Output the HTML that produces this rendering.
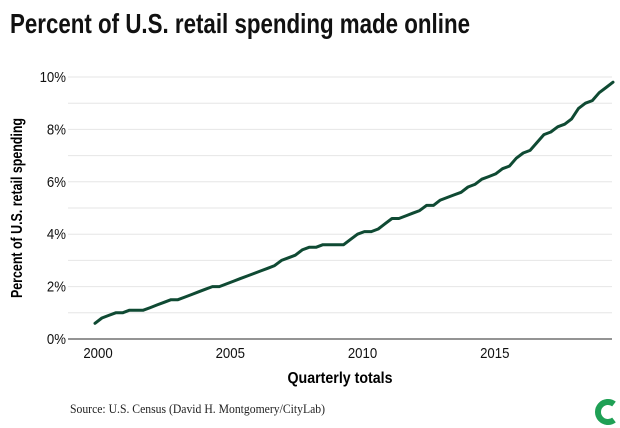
<!DOCTYPE html>
<html><head><meta charset="utf-8"><style>
html,body{margin:0;padding:0;background:#fff;}
svg{display:block;}
</style></head><body>
<svg id="chart" width="620" height="428" xmlns="http://www.w3.org/2000/svg">
<text x="10" y="33" font-family="Liberation Sans, sans-serif" font-weight="bold" font-size="28" textLength="460" lengthAdjust="spacingAndGlyphs" fill="#111">Percent of U.S. retail spending made online</text>
<g id="grid"></g>
<g id="yticks"></g>
<g id="xticks"></g>
<text transform="translate(22,208) rotate(-90)" text-anchor="middle" font-family="Liberation Sans, sans-serif" font-weight="bold" font-size="16" textLength="180" lengthAdjust="spacingAndGlyphs" fill="#000">Percent of U.S. retail spending</text>
<text x="340" y="383" text-anchor="middle" font-family="Liberation Sans, sans-serif" font-weight="bold" font-size="16" textLength="105" lengthAdjust="spacingAndGlyphs" fill="#000">Quarterly totals</text>
<text x="70" y="413" font-family="Liberation Serif, serif" font-size="12.5" textLength="255" lengthAdjust="spacingAndGlyphs" fill="#222">Source: U.S. Census (David H. Montgomery/CityLab)</text>
<g>
<path d="M614 404 A10 10 0 1 0 614 420" fill="none" stroke="#1fa055" stroke-width="6"/>
</g>
</svg>
<script>
const yTickValues = [0,2,4,6,8,10];
const yTickLabels = ["0%","2%","4%","6%","8%","10%"];
const xTickYears = [2000,2005,2010,2015];
const xTickLabels = ["2000","2005","2010","2015"];
const shareValues = [0.6,
0.8,0.9,1.0,1.0, 1.1,1.1,1.1,1.2, 1.3,1.4,1.5,1.5, 1.6,1.7,1.8,1.9,
2.0,2.0,2.1,2.2, 2.3,2.4,2.5,2.6, 2.7,2.8,3.0,3.1, 3.2,3.4,3.5,3.5,
3.6,3.6,3.6,3.6, 3.8,4.0,4.1,4.1, 4.2,4.4,4.6,4.6, 4.7,4.8,4.9,5.1,
5.1,5.3,5.4,5.5, 5.6,5.8,5.9,6.1, 6.2,6.3,6.5,6.6, 6.9,7.1,7.2,7.5,
7.8,7.9,8.1,8.2, 8.4,8.8,9.0,9.1, 9.4,9.6,9.8];
const NS='http://www.w3.org/2000/svg';
function yScale(v){return 339 - v*26.2;}
function yearX(y){return 98 + (y-2000)*26.45;}
function idxX(i){return 95 + i*(613-95)/(shareValues.length-1);}
const grid=document.getElementById('grid');
for(let v=0; v<=10; v++){
  const l=document.createElementNS(NS,'line');
  l.setAttribute('x1',68);l.setAttribute('x2',612);
  l.setAttribute('y1',yScale(v));l.setAttribute('y2',yScale(v));
  l.setAttribute('stroke', v===0?'#555':'#e6e6e6');
  l.setAttribute('stroke-width', v===0?1.2:1);
  
  
  grid.appendChild(l);
}
const yt=document.getElementById('yticks');
yTickValues.forEach((v,i)=>{
  const t=document.createElementNS(NS,'text');
  t.setAttribute('x',66);t.setAttribute('y',yScale(v)+5);
  t.setAttribute('text-anchor','end');
  t.setAttribute('font-family','Liberation Sans, sans-serif');
  t.setAttribute('font-size','15');
  t.setAttribute('transform','translate(66,0) scale(0.88,1) translate(-66,0)');
  t.setAttribute('fill','#111');
  t.textContent=yTickLabels[i];
  
  
  yt.appendChild(t);
});
const xt=document.getElementById('xticks');
xTickYears.forEach((y,i)=>{
  const t=document.createElementNS(NS,'text');
  const x=yearX(y);
  t.setAttribute('x',x);t.setAttribute('y',358);
  t.setAttribute('text-anchor','middle');
  t.setAttribute('font-family','Liberation Sans, sans-serif');
  t.setAttribute('font-size','15');
  t.setAttribute('transform','translate('+x+',0) scale(0.88,1) translate('+(-x)+',0)');
  t.setAttribute('fill','#111');
  t.textContent=xTickLabels[i];
  
  
  xt.appendChild(t);
});
const p=document.createElementNS(NS,'path');
p.setAttribute('d',shareValues.map((v,i)=>(i?'L':'M')+idxX(i).toFixed(1)+' '+yScale(v).toFixed(1)).join(' '));
p.setAttribute('fill','none');p.setAttribute('stroke','#0f4a33');
p.setAttribute('stroke-width','3');p.setAttribute('stroke-linejoin','round');p.setAttribute('stroke-linecap','round');


document.getElementById('chart').appendChild(p);
</script>
</body></html>
